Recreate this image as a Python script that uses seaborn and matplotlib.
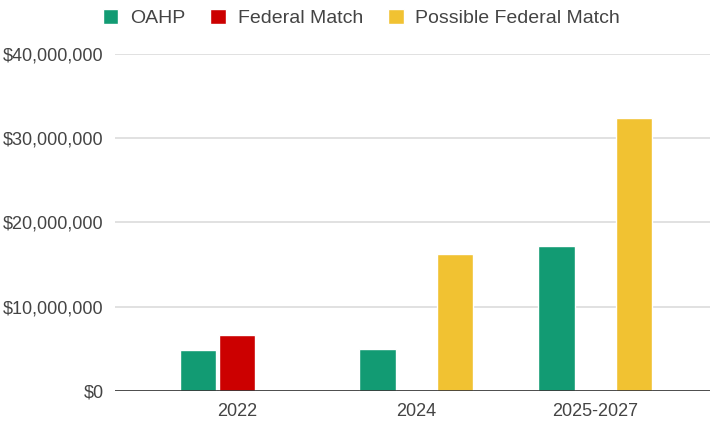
import pandas as pd
import seaborn as sns
import matplotlib.pyplot as plt
from matplotlib.ticker import FuncFormatter

categories = ["2022", "2024", "2025-2027"]
series = ["OAHP", "Federal Match", "Possible Federal Match"]
oahp = [4.9e6, 5.0e6, 17.15e6]
federal_match = [6.6e6, None, None]
possible_match = [None, 16.3e6, 32.4e6]
colors = ["#129b73", "#cc0000", "#f1c232"]

rows = []
for name, vals in zip(series, [oahp, federal_match, possible_match]):
    for cat, v in zip(categories, vals):
        if v is not None:
            rows.append({"year": cat, "series": name, "amount": v})
df = pd.DataFrame(rows)

sns.set_style("white")
plt.rcParams["font.family"] = ["Liberation Sans", "DejaVu Sans"]

fig = plt.figure(figsize=(7.1, 4.24), dpi=100)
ax = fig.add_axes([0.162, 0.078, 0.838, 0.795])

sns.barplot(data=df, x="year", y="amount", hue="series", order=categories,
            hue_order=series, palette=colors, width=0.65, gap=0.06,
            errorbar=None, ax=ax, saturation=1)

ax.set_ylim(0, 40e6)
ax.set_xlim(-0.68, 2.64)
ax.set_yticks([0, 10e6, 20e6, 30e6, 40e6])
ax.yaxis.set_major_formatter(FuncFormatter(lambda v, p: "${:,.0f}".format(v)))
ax.grid(axis="y", color="#dcdcdc", linewidth=1.2)
ax.set_axisbelow(True)
ax.axhline(0, color="#333333", linewidth=1.2, zorder=5)
for s in ax.spines.values():
    s.set_visible(False)
ax.tick_params(axis="both", length=0, labelsize=13, colors="#444444")
ax.tick_params(axis="y", pad=8)
ax.tick_params(axis="x", pad=9)
ax.set_xlabel("")
ax.set_ylabel("")

handles, labels = ax.get_legend_handles_labels()
ax.legend(handles, labels, loc="center", bbox_to_anchor=(0.509, 0.958),
          bbox_transform=fig.transFigure, ncol=3, frameon=False,
          fontsize=14, handlelength=0.8, handleheight=0.8,
          handletextpad=0.6, columnspacing=1.3, labelcolor="#444444")

fig.savefig("out.png", dpi=100)
